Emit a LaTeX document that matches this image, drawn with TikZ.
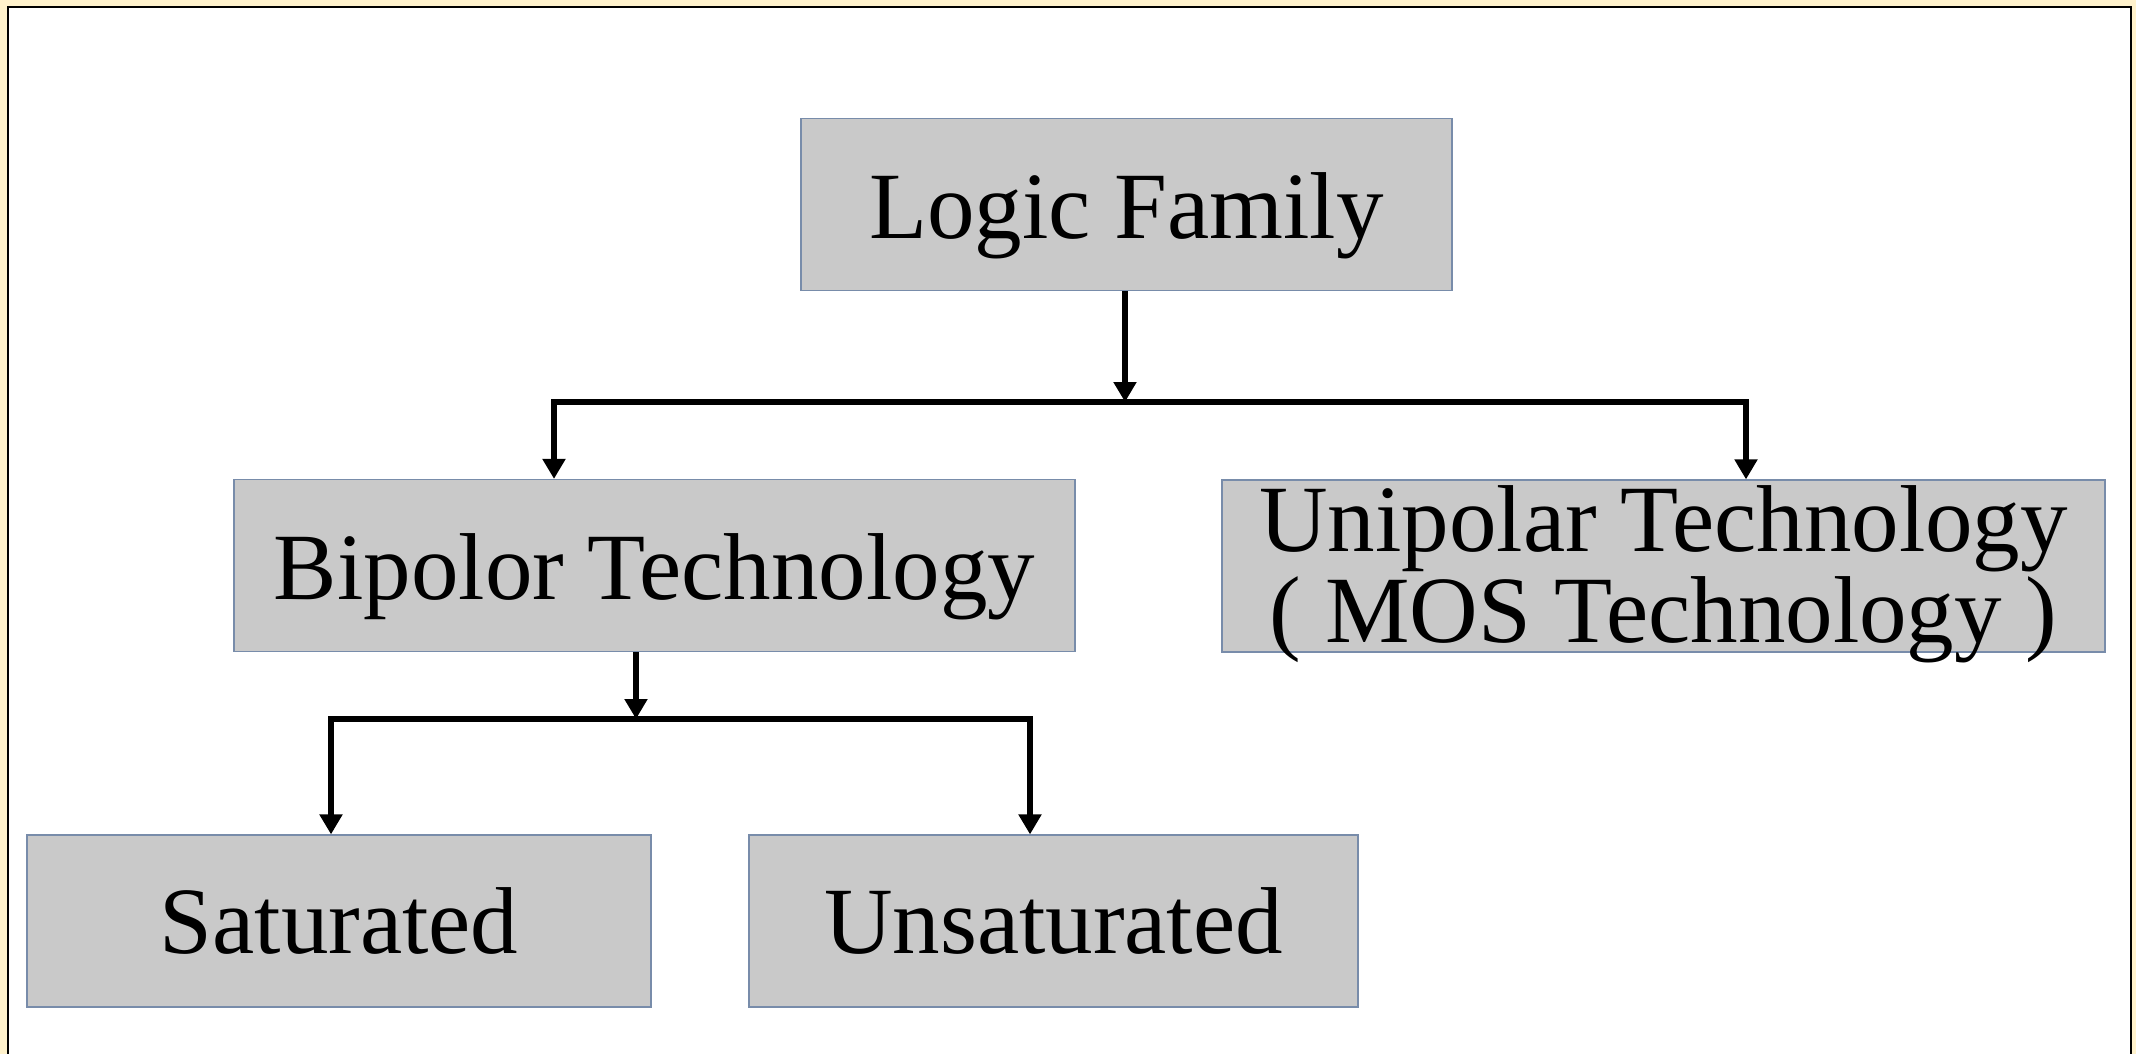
\documentclass[tikz,border=0pt]{standalone}
\usepackage{fontspec}
\setmainfont{Liberation Serif}
\usepackage{tikz}
\usetikzlibrary{positioning, arrows.meta}
\usepackage{xcolor}
\definecolor{slidebg}{RGB}{255,242,204}
\definecolor{boxfill}{RGB}{201,201,201}
\definecolor{boxline}{RGB}{120,140,170}
\newcommand{\lowered}[1]{\raisebox{-5.5pt}[\height][\depth]{#1}}

\begin{document}
\begin{tikzpicture}[x=0.5pt, y=-0.5pt,
                % Node styles
                box/.style={draw=boxline, line width=0.6pt, fill=boxfill, inner sep=0pt, align=center,
                            minimum height=86pt, font=\fontsize{47.5}{42.5}\selectfont},
                % Arrow styles
                hierarchy/.style={-{Triangle[width=11pt, length=10pt]}, line width=2.8pt},
                branch/.style={line width=2.8pt, line cap=rect},
            ]
                % Background and frame
                \clip (0,0) rectangle (2136,1054);
                \fill[slidebg] (0,0) rectangle (2136,1054);
                \draw[line width=1.1pt, fill=white] (8,7) rectangle (2131,1080);

                % Boxes
                \node[box, minimum width=325.5pt] (family)   at (1126.5,204.5) {\lowered{Logic Family}};
                \node[box, minimum width=420.5pt] (bipolar)  at (654.5,565.5)  {\lowered{Bipolor Technology}};
                \node[box, minimum width=441.5pt] (unipolar) at (1663.5,566)
                    {\raisebox{-11.5pt}[0pt][0pt]{\begin{tabular}{@{}c@{}}Unipolar Technology\\( MOS Technology )\end{tabular}}};
                \node[box, minimum width=312pt]   (sat)      at (339,921)      {Saturated};
                \node[box, minimum width=304.5pt] (unsat)    at (1053.5,921)   {Unsaturated};

                % Branch points
                \coordinate (top-mid)   at (1125,402);
                \coordinate (top-left)  at (554,402);
                \coordinate (top-right) at (1746,402);
                \coordinate (bip-out)   at (636,651);
                \coordinate (low-mid)   at (636,719);
                \coordinate (low-left)  at (331,719);
                \coordinate (low-right) at (1030,719);

                % Logic family to technologies
                \draw[hierarchy] (family.south -| top-mid) -- (top-mid);
                \draw[branch] (top-left) -- (top-right);
                \draw[hierarchy] (top-left) -- (top-left |- bipolar.north);
                \draw[hierarchy] (top-right) -- (top-right |- unipolar.north);

                % Bipolar to saturated / unsaturated
                \draw[hierarchy] (bip-out |- bipolar.south) -- (low-mid);
                \draw[branch] (low-left) -- (low-right);
                \draw[hierarchy] (low-left) -- (low-left |- sat.north);
                \draw[hierarchy] (low-right) -- (low-right |- unsat.north);
            \end{tikzpicture}
\end{document}
